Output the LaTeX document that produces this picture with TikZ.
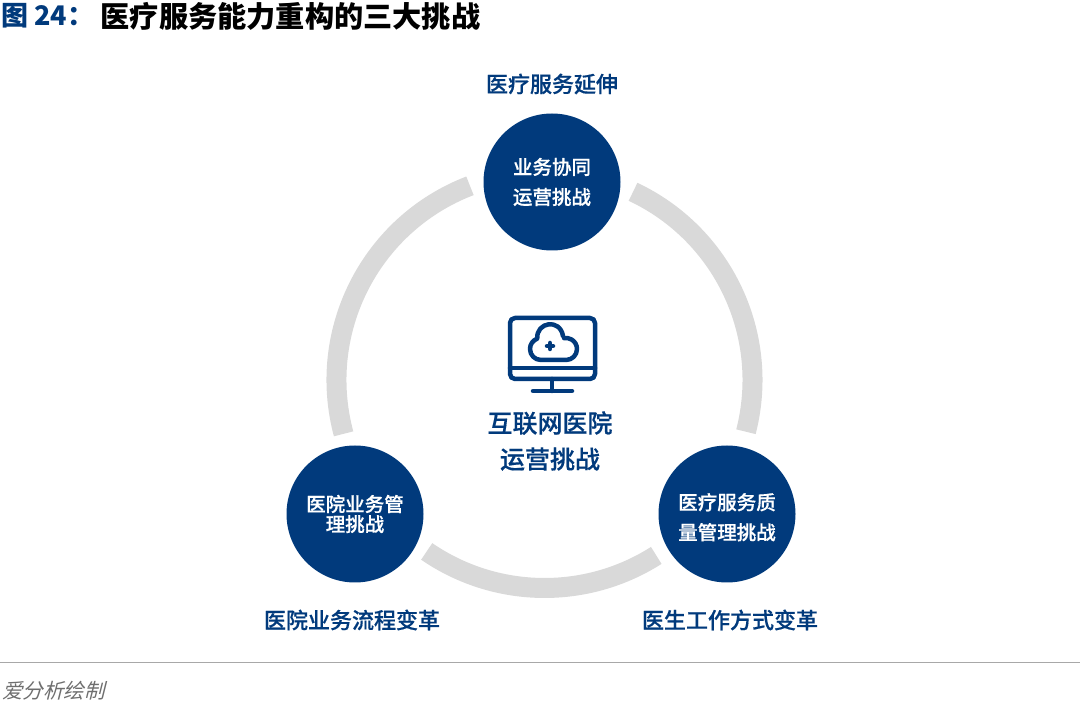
\documentclass[tikz,border=0pt]{standalone}
\usepackage{fontspec}
\usetikzlibrary{calc}
\setmainfont{Noto Sans CJK SC}
\newfontfamily\mediumcjk[FakeBold=0.5]{Noto Sans CJK SC Medium}
\newfontfamily\slantcjk[FakeSlant=0.25]{Noto Sans CJK SC}
\definecolor{navyblue}{HTML}{013A7C}
\definecolor{ringgray}{HTML}{D9D9D9}
\definecolor{rulegray}{HTML}{A8A8A8}
\definecolor{notegray}{HTML}{6E6E6E}
\tikzset{
	topic/.style =
	{
		circle,
		fill			= navyblue,
		text			= white,
		minimum size	= 137pt,
		inner sep		= 0pt,
		align			= center,
		font			= \fontsize{19.5pt}{30pt}\mediumcjk
	},
	caption/.style =
	{
		text			= navyblue,
		inner sep		= 0pt,
		font			= \fontsize{22pt}{26pt}\mediumcjk
	},
	ringarc/.style =
	{
		draw			= ringgray,
		line width		= 20pt
	},
	iconline/.style =
	{
		draw			= navyblue,
		line width		= 4.5pt,
		line cap		= round,
		line join		= round
	}
}
\begin{document}
\begin{tikzpicture}[x=1pt,y=1pt]
		%
		\useasboundingbox (0,0) rectangle (1080,710);
		\coordinate (ringcentre) at (544.5,330);
		%
		% ring
		\draw[ringarc] ($(ringcentre)+(111:208pt)$) arc[start angle=111, end angle=195, radius=208pt];
		\draw[ringarc] ($(ringcentre)+(64.8:208pt)$) arc[start angle=64.8, end angle=-14.4, radius=208pt];
		\draw[ringarc] ($(ringcentre)+(235.5:208pt)$) arc[start angle=235.5, end angle=302.5, radius=208pt];
		%
		% circles
		\node[topic] (synergy) at (552,528) {业务协同\\运营挑战};
		\node[topic] (manage) at (355,196) {医院业务管\\[-10pt]理挑战};
		\node[topic] (quality) at (727,196) {\rule{0pt}{23pt}医疗服务质\\量管理挑战};
		%
		% captions
		\node[caption] (extend) at (552,626) {医疗服务延伸};
		\node[caption] (process) at (352,90) {医院业务流程变革};
		\node[caption] (work) at (730,90) {医生工作方式变革};
		%
		% centre
		\node
		[
			text			= navyblue,
			inner sep		= 0pt,
			align			= center,
			font			= \fontsize{25pt}{36pt}\mediumcjk
		]
		(hospital) at (550,269) {互联网医院\\运营挑战};
		%
		% icon
		\draw[iconline, rounded corners=5pt] (510,331) rectangle (595,392);
		\draw[iconline] (510,342) -- (595,342);
		\draw[iconline] (552,331) -- (552,319);
		\draw[iconline] (533,319) -- (572,319);
		\draw[iconline]
			(541,350) -- (566,350)
			arc[start angle=-90, end angle=100, radius=11pt]
			(541,350)
			arc[start angle=-90, end angle=-250, radius=11pt]
			.. controls (536,388) and (560,392) .. (563,374);
		\draw[iconline] (550,361) -- (550,367) (547,364) -- (553,364);
		%
		% title
		\node[anchor=west, inner sep=0pt, text=navyblue, font=\fontsize{27pt}{32pt}\selectfont\bfseries] (figno) at (1,694) {图 24：};
		\node[anchor=west, inner sep=0pt, font=\fontsize{29.2pt}{32pt}\selectfont\bfseries] (title) at (100.5,694) {医疗服务能力重构的三大挑战};
		%
		% foot
		\coordinate (ruleleft) at (0,47.5);
		\coordinate (ruleright) at (1080,47.5);
		\draw[rulegray, line width=1.5pt] (ruleleft) -- (ruleright);
		\node[anchor=west, inner sep=0pt, text=notegray, font=\fontsize{20.5pt}{24pt}\slantcjk] (note) at (2,19) {爱分析绘制};
		%
	\end{tikzpicture}
\end{document}
